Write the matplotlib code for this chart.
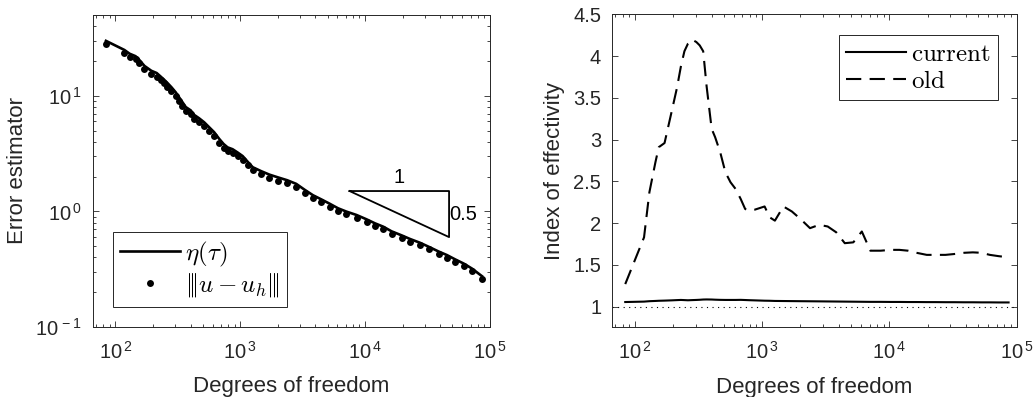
import numpy as np
import matplotlib.pyplot as plt
from matplotlib.ticker import LogLocator, NullFormatter, MultipleLocator, FuncFormatter

plt.rcParams['font.family'] = ['Liberation Sans', 'DejaVu Sans']
plt.rcParams['mathtext.fontset'] = 'custom'
plt.rcParams['mathtext.rm'] = 'Liberation Sans'
plt.rcParams['mathtext.it'] = 'Liberation Sans:italic'
plt.rcParams['mathtext.bf'] = 'Liberation Sans:bold'
plt.rcParams['lines.scale_dashes'] = False

# degrees of freedom per refinement step
dof = [84, 118, 130, 145, 154, 171, 194, 214, 230, 245, 261, 281, 304, 323,
       344, 366, 401, 427, 468, 514, 564, 618, 678, 735, 791, 868, 953, 1045,
       1146, 1259, 1468, 1711, 2000, 2376, 2807, 3273, 3821, 4457, 5200, 6067,
       7079, 8530, 10260, 11970, 13990, 16300, 19630, 22900, 27550, 32200,
       38730, 45190, 52720, 61520, 71780, 86300]

# error estimator eta(tau)
eta = [29.86, 24.91, 23.11, 22.00, 20.65, 18.12, 16.45, 15.74, 14.69, 13.80,
       12.91, 11.86, 10.72, 9.74, 8.82, 7.99, 7.48, 6.84, 6.39, 5.90, 5.34,
       4.84, 4.24, 3.83, 3.58, 3.45, 3.23, 3.01, 2.69, 2.41, 2.23, 2.08, 1.97,
       1.86, 1.73, 1.54, 1.38, 1.27, 1.165, 1.064, 0.996, 0.931, 0.854, 0.789,
       0.737, 0.672, 0.620, 0.577, 0.535, 0.495, 0.450, 0.419, 0.384, 0.354,
       0.320, 0.275]

# true error |||u - u_h|||
err = [28.3, 23.5, 21.7, 20.6, 19.3, 16.9, 15.3, 14.6, 13.6, 12.8, 12.0, 11.0,
       9.93, 9.0, 8.13, 7.36, 6.89, 6.32, 5.91, 5.46, 4.94, 4.48, 3.92, 3.55,
       3.32, 3.21, 3.01, 2.81, 2.51, 2.26, 2.09, 1.95, 1.85, 1.75, 1.63, 1.45,
       1.30, 1.20, 1.10, 1.006, 0.942, 0.881, 0.809, 0.747, 0.699, 0.637, 0.588,
       0.547, 0.508, 0.470, 0.428, 0.398, 0.365, 0.337, 0.305, 0.262]

# effectivity indices
eff_current = [1.055, 1.060, 1.065, 1.068, 1.070, 1.072, 1.075, 1.078, 1.080,
               1.078, 1.076, 1.078, 1.080, 1.082, 1.085, 1.086, 1.085, 1.083,
               1.081, 1.080, 1.080, 1.080, 1.081, 1.079, 1.077, 1.075, 1.073,
               1.071, 1.070, 1.068, 1.067, 1.066, 1.065, 1.064, 1.063, 1.062,
               1.061, 1.060, 1.059, 1.058, 1.057, 1.057, 1.056, 1.056, 1.055,
               1.055, 1.054, 1.054, 1.053, 1.053, 1.052, 1.052, 1.051, 1.051,
               1.050, 1.050]
eff_old = [1.27, 1.83, 2.37, 2.73, 2.91, 2.96, 3.33, 3.62, 3.88, 4.06, 4.15,
           4.20, 4.17, 4.13, 4.06, 3.64, 3.13, 3.03, 2.85, 2.61, 2.49, 2.41,
           2.29, 2.17, 2.15, 2.16, 2.18, 2.20, 2.07, 2.03, 2.20, 2.14, 2.05,
           1.94, 1.98, 1.96, 1.89, 1.76, 1.77, 1.90, 1.67, 1.67, 1.68, 1.68,
           1.67, 1.645, 1.62, 1.62, 1.62, 1.63, 1.645, 1.65, 1.645, 1.62,
           1.605, 1.59]

# slope triangle
tri_x = [7500, 47000]
tri_y0 = 1.5
tri_slope = 0.5

axc = '#262626'

fig = plt.figure(figsize=(10.34, 3.97), dpi=100)
ax1 = fig.add_axes([0.0902, 0.1763, 0.3837, 0.786])
ax2 = fig.add_axes([0.5922, 0.1751, 0.3911, 0.7884])


def pow10(v, p):
    e = int(round(np.log10(v)))
    return r'$\mathregular{10^{\,%d}}$' % e


def style(ax):
    for s in ax.spines.values():
        s.set_color(axc)
        s.set_linewidth(0.7)
    ax.tick_params(which='both', direction='in', top=True, right=True,
                   color=axc, labelcolor=axc, labelsize=14.5, width=0.6, pad=8)
    ax.tick_params(axis='x', which='major', pad=10)
    ax.tick_params(which='major', length=4)
    ax.tick_params(which='minor', length=2.5)


def log_x(ax):
    ax.set_xscale('log')
    ax.set_xlim(66.5, 1e5)
    ax.xaxis.set_major_locator(LogLocator(base=10, numticks=10))
    ax.xaxis.set_major_formatter(FuncFormatter(pow10))
    ax.xaxis.set_minor_locator(LogLocator(base=10, subs=np.arange(2, 10), numticks=20))
    ax.xaxis.set_minor_formatter(NullFormatter())


# left panel
ax1.plot(dof, eta, '-', color='k', lw=1.9, label=r'$\eta(\tau)$')
ax1.plot(dof, err, 'o', color='k', ms=5, mew=0, label=r'$|\!|\!|u - u_h|\!|\!|$')
x0, x1 = tri_x
y1 = tri_y0 * (x0 / x1) ** tri_slope
ax1.plot([x0, x1, x1, x0], [tri_y0, tri_y0, y1, tri_y0], color='k', lw=1.3)
ax1.text(np.sqrt(x0 * x1), tri_y0 * 1.08, '1', ha='center', va='bottom',
         fontsize=14.5)
ax1.text(x1 * 1.01, np.sqrt(tri_y0 * y1), '0.5', ha='left', va='center',
         fontsize=14.5)
log_x(ax1)
ax1.set_yscale('log')
ax1.set_ylim(0.1, 50)
ax1.yaxis.set_major_formatter(FuncFormatter(pow10))
ax1.yaxis.set_minor_locator(LogLocator(base=10, subs=np.arange(2, 10), numticks=20))
ax1.yaxis.set_minor_formatter(NullFormatter())
style(ax1)
ax1.set_xlabel('Degrees of freedom', fontsize=16, color=axc)
ax1.set_ylabel('Error estimator', fontsize=16, color=axc)
ax1.xaxis.set_label_coords(0.5, -0.158)
ax1.yaxis.set_label_coords(-0.165, 0.5)
leg1 = ax1.legend(loc='lower left', bbox_to_anchor=(0.049, 0.065), borderaxespad=0,
                  fontsize=18, handlelength=2.4, handletextpad=0.2,
                  borderpad=0.3, labelspacing=0.1, fancybox=False,
                  edgecolor=axc, framealpha=1)
leg1.get_frame().set_linewidth(0.7)
for t in leg1.get_texts():
    t.set_math_fontfamily('cm')

# right panel
ax2.plot(dof, eff_current, '-', color='k', lw=1.5, label=r'$\mathrm{current}$')
ax2.plot(dof, eff_old, color='k', lw=1.5, dashes=(11, 6), label=r'$\mathrm{old}$')
ax2.axhline(1, color='k', lw=0.8, dashes=(0.8, 3.2))
log_x(ax2)
ax2.set_ylim(0.75, 4.5)
ax2.yaxis.set_major_locator(MultipleLocator(0.5))
ax2.yaxis.set_major_formatter(FuncFormatter(lambda v, p: '%g' % v))
style(ax2)
ax2.set_xlabel('Degrees of freedom', fontsize=16, color=axc)
ax2.set_ylabel('Index of effectivity', fontsize=16, color=axc)
ax2.xaxis.set_label_coords(0.5, -0.158)
ax2.yaxis.set_label_coords(-0.117, 0.5)
leg2 = ax2.legend(loc='upper right', bbox_to_anchor=(0.9545, 0.936), borderaxespad=0,
                  fontsize=18, handlelength=2.4, handletextpad=0.2,
                  borderpad=0.3, labelspacing=0.1, fancybox=False,
                  edgecolor=axc, framealpha=1)
leg2.get_frame().set_linewidth(0.7)
for t in leg2.get_texts():
    t.set_math_fontfamily('cm')

fig.savefig('out.png', dpi=100)
